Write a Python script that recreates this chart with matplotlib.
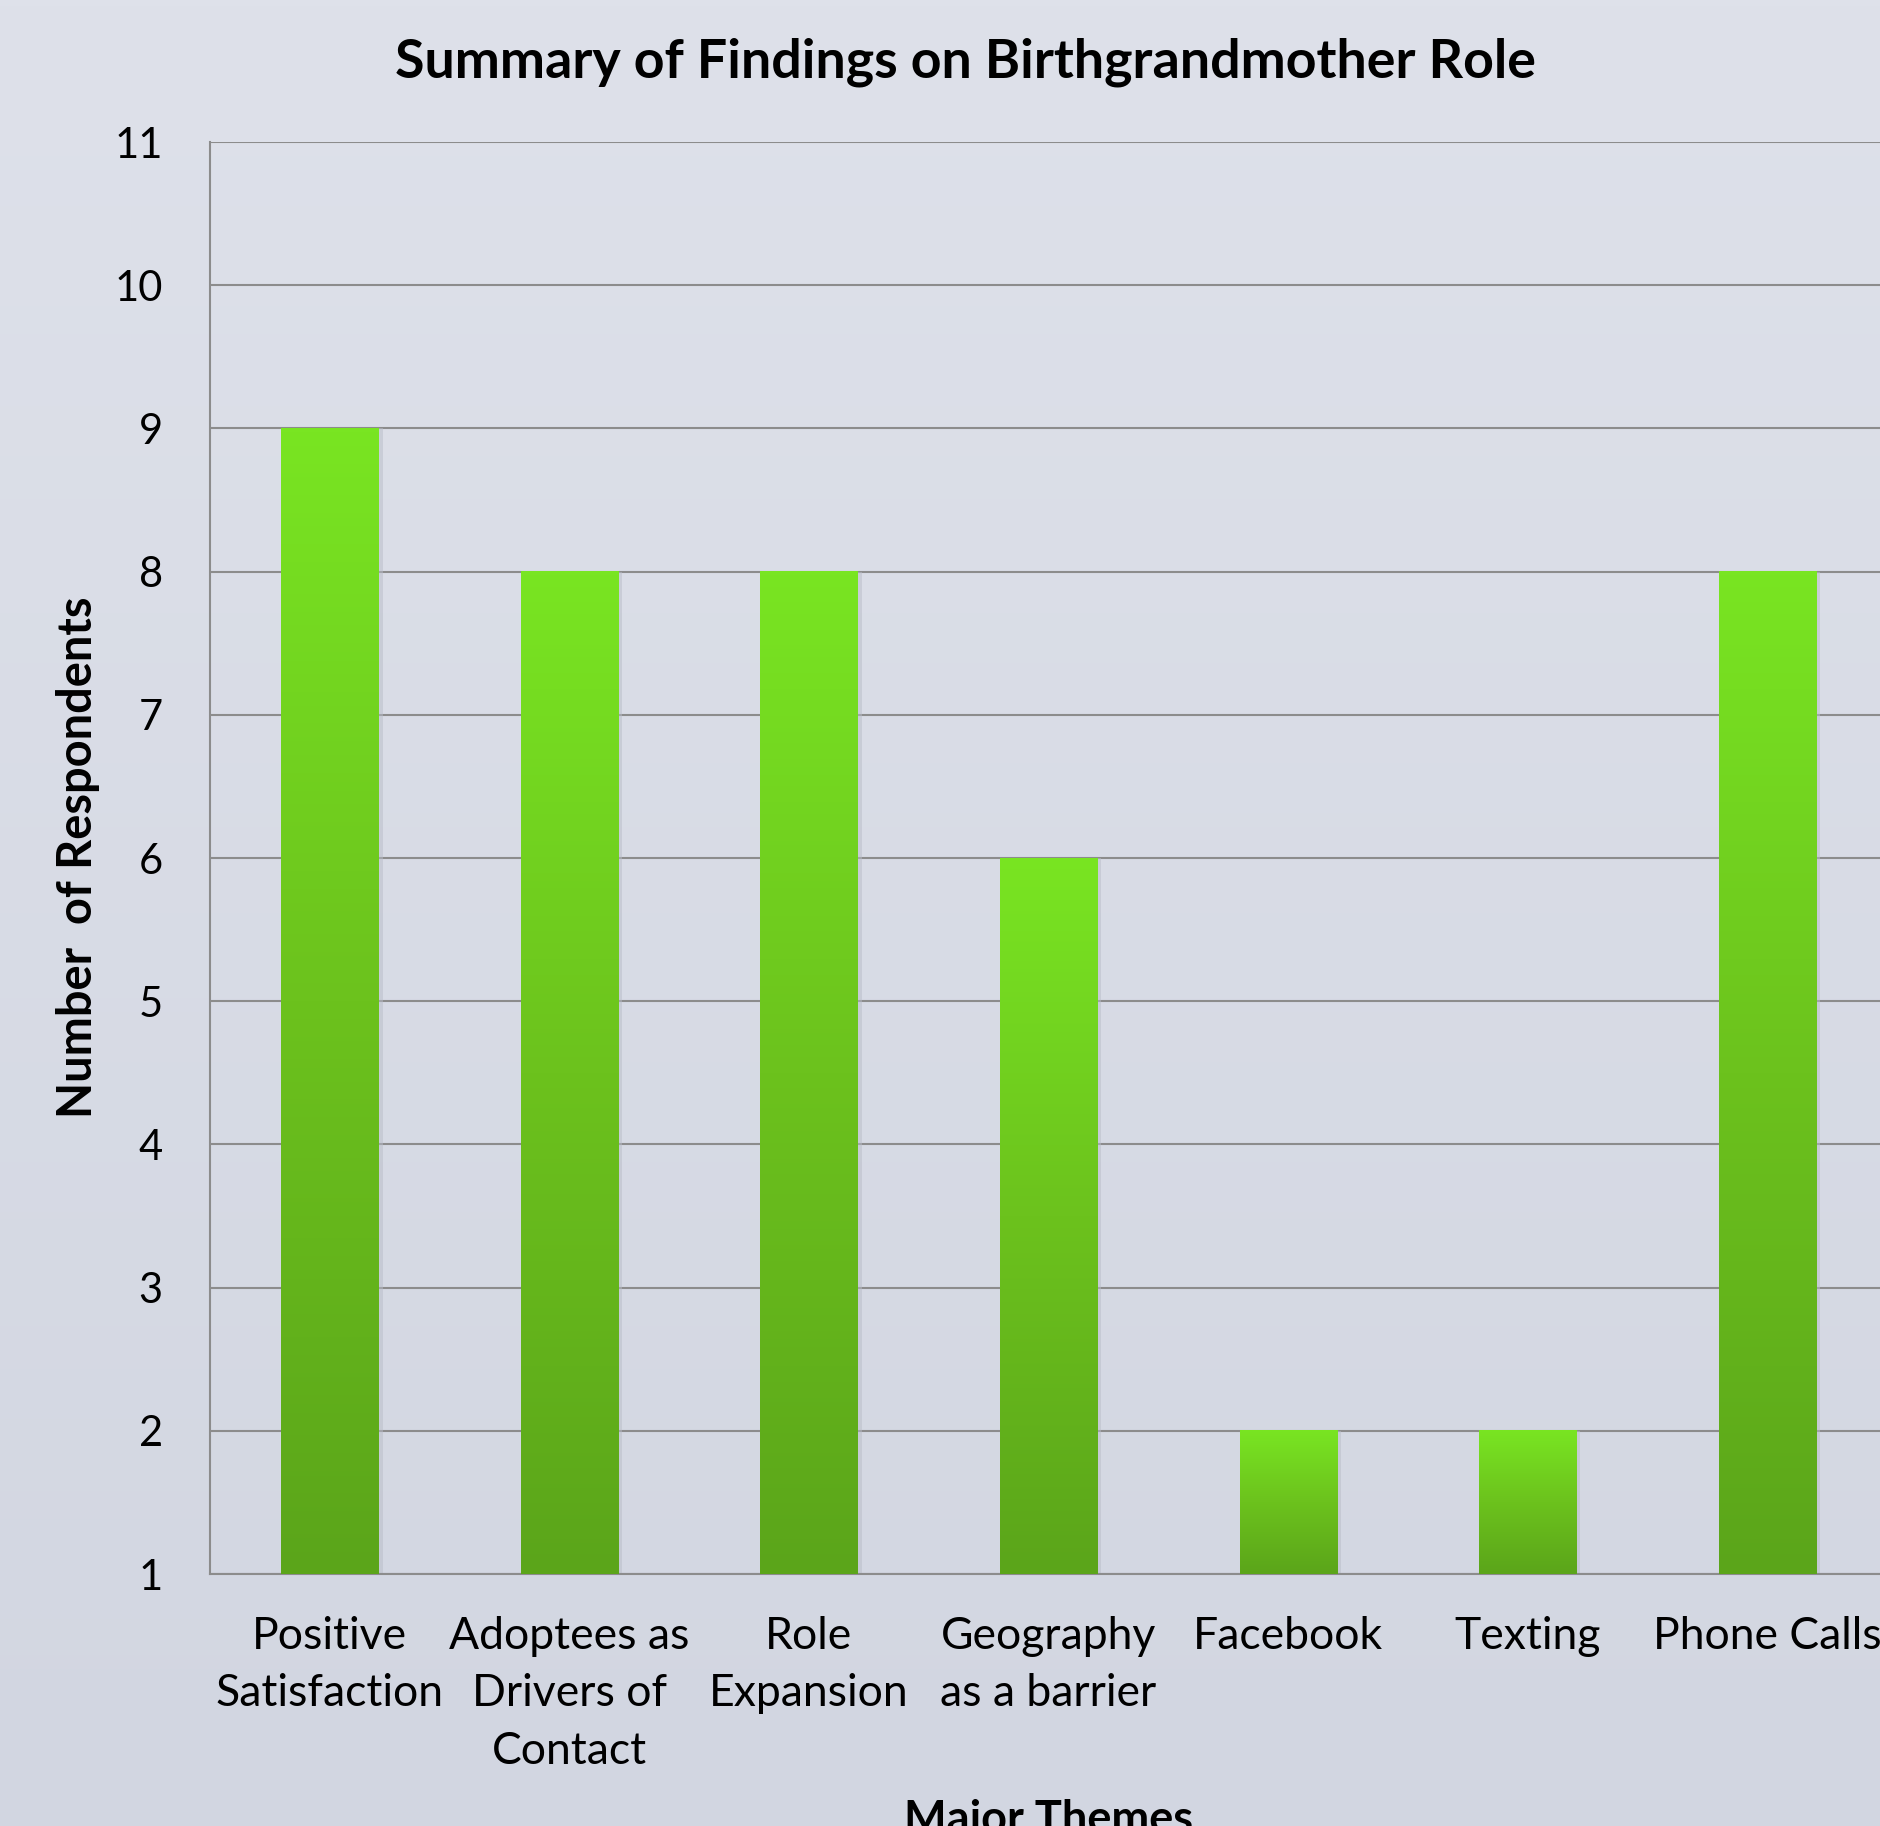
import numpy as np
import matplotlib
matplotlib.use('Agg')
import matplotlib.pyplot as plt
from matplotlib.colors import LinearSegmentedColormap

# data
themes = ['Positive\nSatisfaction', 'Adoptees as\nDrivers of\nContact', 'Role\nExpansion',
          'Geography\nas a barrier', 'Facebook', 'Texting', 'Phone Calls']
respondents = [9, 8, 8, 6, 2, 2, 8]
y_ticks = list(range(1, 12))

FONT = 'Lato'
W, H, DPI = 1880, 1826, 100
GRID = '#8c8c8c'

plt.rcParams['font.family'] = [FONT, 'DejaVu Sans']

fig = plt.figure(figsize=(W / DPI, H / DPI), dpi=DPI)

# figure background gradient
bg = fig.add_axes([0, 0, 1, 1], zorder=-10)
bg_cmap = LinearSegmentedColormap.from_list('bg', ['#d2d6e1', '#dee1ea'])
bg.imshow(np.linspace(0, 1, 256).reshape(-1, 1), cmap=bg_cmap, aspect='auto',
          origin='lower', extent=(0, 1, 0, 1))
bg.set_axis_off()

ax = fig.add_axes([210 / W, 252 / H, (1887 - 210) / W, (1574 - 142) / H])
ax.set_facecolor('none')

x = np.arange(len(themes))
base = y_ticks[0]
heights = [v - base for v in respondents]
bars = ax.bar(x, heights, bottom=base, width=0.405, color='none', zorder=3)

bar_cmap = LinearSegmentedColormap.from_list('bar', ['#5ba51a', '#6cc21d', '#79e522'])
grad = np.linspace(0, 1, 256).reshape(-1, 1)
for b in bars:
    x0, y0 = b.get_x(), b.get_y()
    # faint shadow
    ax.bar(x0 + b.get_width() / 2 + 0.012, b.get_height(), bottom=y0,
           width=b.get_width() + 0.012, color='#b9bdc8', alpha=0.5, zorder=2)
    ax.imshow(grad, cmap=bar_cmap, aspect='auto', origin='lower', zorder=4,
              extent=(x0, x0 + b.get_width(), y0, y0 + b.get_height()))

ax.set_xlim(-0.5, len(themes) - 0.5)
ax.set_ylim(y_ticks[0], y_ticks[-1])
ax.set_yticks(y_ticks)
ax.set_yticklabels([str(t) for t in y_ticks], fontsize=30)
ax.set_xticks(x)
ax.set_xticklabels(themes, fontsize=32, linespacing=1.5)
ax.tick_params(axis='y', length=0, pad=34)
ax.tick_params(axis='x', length=0, pad=30)
ax.grid(axis='y', color=GRID, lw=1.5, zorder=1)
ax.set_axisbelow(True)
for s in ('top', 'right'):
    ax.spines[s].set_visible(False)
for s in ('left', 'bottom'):
    ax.spines[s].set_color(GRID)
    ax.spines[s].set_linewidth(1.5)

fig.text(965 / W, 1 - 62 / H, 'Summary of Findings on Birthgrandmother Role',
         ha='center', va='center', fontsize=38.7, fontweight='bold')
fig.text(78 / W, 1 - 857 / H, 'Number  of Respondents', rotation=90,
         ha='center', va='center', fontsize=33.8, fontweight='bold')
fig.text(1049 / W, 1 - 1798 / H, 'Major Themes', ha='center', va='top',
         fontsize=32.5, fontweight='bold')

fig.savefig('out.png', dpi=DPI)
